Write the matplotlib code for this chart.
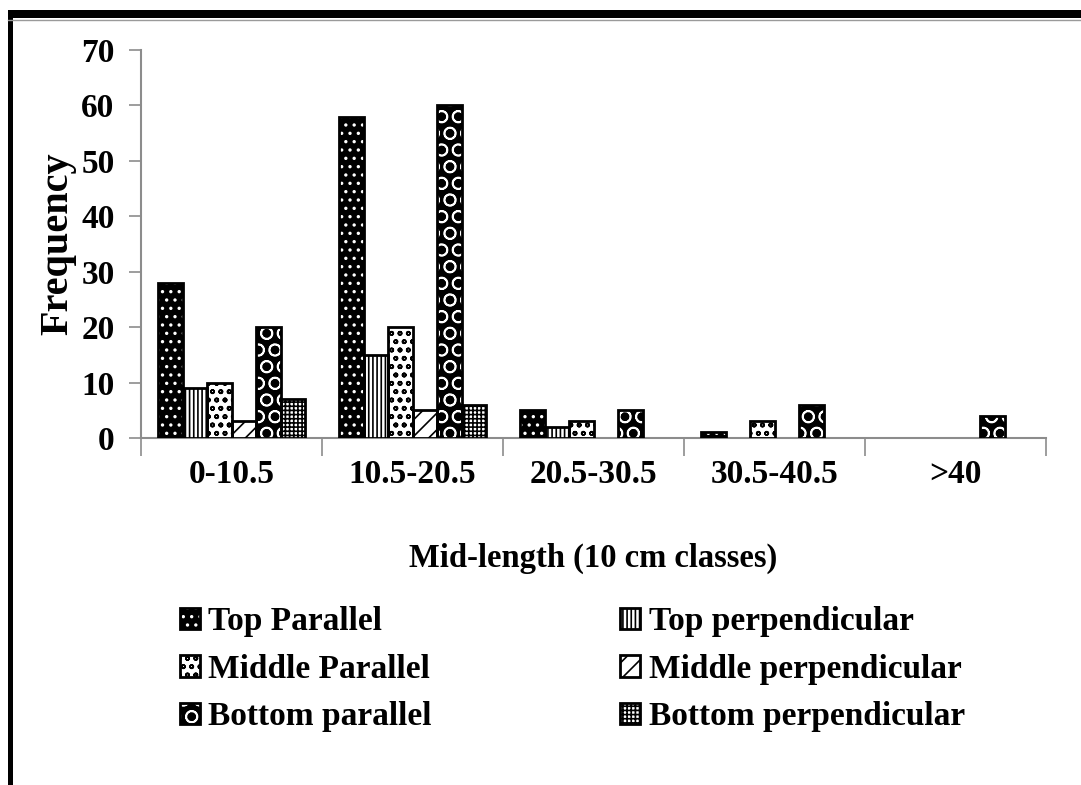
import matplotlib
matplotlib.use("Agg")
import matplotlib.pyplot as plt
import numpy as np
from matplotlib.patches import Rectangle
from matplotlib.lines import Line2D

categories = ["0-10.5", "10.5-20.5", "20.5-30.5", "30.5-40.5", ">40"]
series_names = ["Top Parallel", "Top perpendicular", "Middle Parallel",
                "Middle perpendicular", "Bottom parallel", "Bottom perpendicular"]
top_parallel = [28, 58, 5, 1, 0]
top_perpendicular = [9, 15, 2, 0, 0]
middle_parallel = [10, 20, 3, 3, 0]
middle_perpendicular = [3, 5, 0, 0, 0]
bottom_parallel = [20, 60, 5, 6, 4]
bottom_perpendicular = [7, 6, 0, 0, 0]
series_values = [top_parallel, top_perpendicular, middle_parallel,
                 middle_perpendicular, bottom_parallel, bottom_perpendicular]
y_ticks = [0, 10, 20, 30, 40, 50, 60, 70]

# (face, hatch, hatch colour)
styles = [
    ("black", "..", "white"),
    ("white", "||||", "black"),
    ("white", "oo", "black"),
    ("white", "//", "black"),
    ("black", "O", "white"),
    ("white", "++++", "black"),
]

plt.rcParams["font.family"] = ["Liberation Serif", "DejaVu Serif"]
plt.rcParams["font.weight"] = "bold"
plt.rcParams["hatch.linewidth"] = 1.2

fig = plt.figure(figsize=(10.81, 7.85), dpi=100)
ax = fig.add_axes([141/1081, 1-438/785, (1046-141)/1081, (438-50)/785])

n = len(series_names)
x = np.arange(len(categories))
group_w = 147/181
bw = group_w / n
handles = []
for i, (vals, (face, hatch, hc)) in enumerate(zip(series_values, styles)):
    pos = x - group_w/2 + bw*(i+0.5)
    ax.bar(pos, vals, bw, color=face, edgecolor=hc, hatch=hatch, linewidth=0, zorder=2)
    b2 = ax.bar(pos, vals, bw, facecolor="none", edgecolor="black", linewidth=2, zorder=3)
    for r, v in zip(b2, vals):
        if v == 0:
            r.set_visible(False)
    h1 = Rectangle((0, 0), 1, 1, facecolor=face, edgecolor=hc, hatch=hatch, linewidth=0)
    h2 = Rectangle((0, 0), 1, 1, facecolor="none", edgecolor="black", linewidth=2)
    handles.append((h1, h2))

ax.set_xlim(-0.5, len(categories)-0.5)
ax.set_ylim(0, 70)
ax.set_yticks(y_ticks)
ax.set_xticks(x)
ax.set_xticklabels(categories)
ax.set_xticks(np.arange(len(categories)+1)-0.5, minor=True)
ax.tick_params(axis="x", which="major", length=0, pad=15, labelsize=24)
ax.tick_params(axis="x", which="minor", length=13, width=1.2, color="#8c8c8c")
ax.tick_params(axis="y", length=9, width=1.2, color="#8c8c8c", labelsize=24, pad=10)
for s in ["top", "right"]:
    ax.spines[s].set_visible(False)
for s in ["left", "bottom"]:
    ax.spines[s].set_color("#8c8c8c")
    ax.spines[s].set_linewidth(1.5)
    ax.spines[s].set_zorder(1)

ax.set_xlabel("Mid-length (10 cm classes)", fontsize=23.5, fontweight="bold", labelpad=38)
ax.set_ylabel("Frequency", fontsize=29, fontweight="bold", va="center")
ax.yaxis.set_label_coords((58-141)/905, 0.5)

order = [0, 2, 4, 1, 3, 5]
leg = fig.legend([handles[k] for k in order], [series_names[k] for k in order],
                 ncol=2, loc="upper left", bbox_to_anchor=(180/1081, 1-606/785),
                 frameon=False, fontsize=24, handlelength=0.6, handleheight=0.6,
                 handletextpad=0.25, columnspacing=5.65, labelspacing=0.5,
                 borderpad=0, borderaxespad=0)

# frame
fig.add_artist(Rectangle((8/1081, 1-18/785), 1-8/1081, 8/785, transform=fig.transFigure,
                         facecolor="black", edgecolor="none"))
fig.add_artist(Line2D([8/1081, 1], [1-19.5/785]*2, transform=fig.transFigure,
                      color="#9a9a9a", lw=1))
fig.add_artist(Rectangle((8/1081, 0), 5/1081, 1-10/785, transform=fig.transFigure,
                         facecolor="black", edgecolor="none"))

fig.savefig("out.png", dpi=100)
